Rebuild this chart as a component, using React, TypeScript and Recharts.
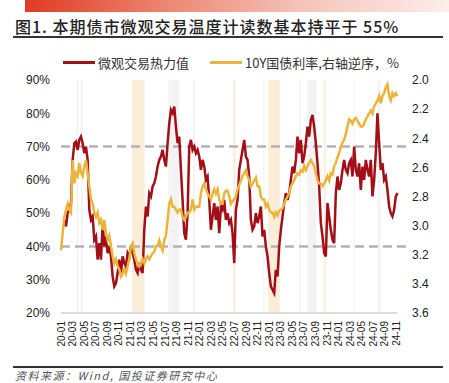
import React from "react";
import {
  ComposedChart,
  Line,
  XAxis,
  YAxis,
  ReferenceArea,
  ReferenceLine,
} from "recharts";

// samples are spaced STEP months apart, starting at 2020-01
const STEP = 0.288;

const tickLabels = [
  "20-01", "20-03", "20-05", "20-07", "20-09", "20-11",
  "21-01", "21-03", "21-05", "21-07", "21-09", "21-11",
  "22-01", "22-03", "22-05", "22-07", "22-09", "22-11",
  "23-01", "23-03", "23-05", "23-07", "23-09", "23-11",
  "24-01", "24-03", "24-05", "24-07", "24-09", "24-11",
];

// 微观交易热力值 (%)
const heatIndex: (number | null)[] = [
  null, null, 48, 46, 50, 51, 53, 66, 71, 71.5,
  69, 72, 73, 71, 68, 70, 66, 51, 48, 49,
  42, 43, 36, 41, 36, 47, 40, 43, 38, 40,
  37, 31, 28, 29, 32, 36, 32, 37, 35, 34,
  38, 37, 40, 38, 36, 33, 32, 35, 33, 32,
  45, 52, 49, 56, 55, 58, 59, 61, 64, 66,
  67, 69, 66, 64, 71, 77, 81, 80, 82, 76,
  71, 73, 63, 54, 44, 42, 50, 70, 72, 69,
  70, 68, 69, 67, 63, 66, 64, 60, 61, 54,
  45, 49, 53, 48, 52, 44, 52, 51,
  54, 48, 50, 47, 48, 44, 35, 51, 54, 63,
  66, 69, 72, 67, 66, 61, 48, 45, 46, 50,
  47, 49, 52, 43, 45, 40, 37, 32, 28, 27,
  26, 33, 31, 40, 45, 49, 53, 56, 54, 56,
  60, 64, 62, 66, 73, 68, 72, 65, 67, 71,
  76, 73, 78, 79.5, 76, 71, 65, 58, 47, 43,
  38, 37, 53, 49, 45, 42, 41, 56, 61, 57,
  59, 63, 66, 63, 62, 65, 66, 61, 70, 63,
  61, 65, 57, 64, 60, 66, 63, 61, 66, 55,
  60, 68, 80, 71, 63, 65, 60, 61, 57, 52,
  50, 49, 51, 55, 56,
];

// 10Y国债利率 (%)
const bondYield: number[] = [
  3.17, 3.05, 2.94, 2.89, 2.85, 2.89, 2.91, 2.55, 2.71, 2.64,
  2.66, 2.57, 2.64, 2.66, 2.59, 2.55, 2.64, 2.73, 2.82, 2.85,
  2.91, 2.94, 2.91, 2.98, 2.96, 3.03, 2.96, 3.05, 3.10, 3.07,
  3.14, 3.21, 3.26, 3.23, 3.28, 3.30, 3.35, 3.33, 3.30, 3.33,
  3.28, 3.23, 3.14, 3.12, 3.19, 3.23, 3.26, 3.28, 3.26, 3.23,
  3.26, 3.23, 3.21, 3.23, 3.21, 3.19, 3.18, 3.14, 3.14, 3.10,
  3.14, 3.17, 3.10, 3.07, 2.96, 2.85, 2.82, 2.87, 2.87, 2.89,
  2.91, 2.89, 2.89, 2.94, 2.96, 2.94, 2.91, 2.91, 2.89, 2.82,
  2.89, 2.87, 2.87, 2.87, 2.78, 2.73, 2.71, 2.75, 2.78, 2.80,
  2.82, 2.78, 2.75, 2.78, 2.75, 2.82, 2.85, 2.85,
  2.78, 2.76, 2.76, 2.80, 2.85, 2.83, 2.82, 2.80, 2.75, 2.72,
  2.69, 2.66, 2.64, 2.62, 2.66, 2.69, 2.73, 2.71, 2.69, 2.67,
  2.73, 2.73, 2.80, 2.82, 2.82, 2.87, 2.85, 2.89, 2.91, 2.91,
  2.94, 2.91, 2.93, 2.90, 2.89, 2.88, 2.85, 2.82, 2.80, 2.78,
  2.73, 2.71, 2.69, 2.66, 2.64, 2.65, 2.62, 2.63, 2.59, 2.62,
  2.59, 2.57, 2.55, 2.57, 2.59, 2.64, 2.69, 2.71, 2.71, 2.73,
  2.71, 2.69, 2.66, 2.69, 2.64, 2.65, 2.59, 2.57, 2.53, 2.50,
  2.46, 2.43, 2.41, 2.37, 2.32, 2.27, 2.28, 2.30, 2.27, 2.26,
  2.28, 2.30, 2.32, 2.32, 2.30, 2.27, 2.25, 2.23, 2.21, 2.23,
  2.18, 2.16, 2.14, 2.11, 2.16, 2.11, 2.09, 2.05, 2.03, 2.11,
  2.14, 2.09, 2.11, 2.09, 2.11,
];

// shaded periods, in months from 2020-01
const creamBands: [number, number][] = [
  [12.27, 14.46], [29.77, 30.18], [35.82, 37.84], [45.44, 45.78],
];
const greyBands: [number, number][] = [
  [18.54, 20.39], [42.55, 44.18], [54.77, 55.23],
];
const faintBands: [number, number][] = [
  [2.72, 2.95], [3.48, 3.7], [22.9, 23.1], [35.0, 35.15], [41.25, 41.45], [50.6, 50.75],
];
const thresholds = [70, 40];

const leftTicks = [20, 30, 40, 50, 60, 70, 80, 90];
const rightTicks = [2.0, 2.2, 2.4, 2.6, 2.8, 3.0, 3.2, 3.4, 3.6];

const rows = bondYield.map((y, i) => ({
  m: +(i * STEP).toFixed(3),
  heat: heatIndex[i] ?? null,
  yield: y,
}));
const lastM = rows[rows.length - 1].m;

const LATIN = '"Liberation Sans", Arial, sans-serif';
const CJK = '"Noto Sans CJK SC", "Liberation Sans", sans-serif';

function MonthTick({ x, y, payload }: any) {
  const label = tickLabels[Math.round(payload.value / 2)];
  return (
    <text
      x={x}
      y={y}
      dy="0.35em"
      transform={`rotate(-90, ${x}, ${y})`}
      textAnchor="end"
      fontSize={10}
      fill="#222"
      fontFamily={LATIN}
    >
      {label}
    </text>
  );
}

export default function App() {
  return (
    <div
      style={{
        position: "absolute",
        left: 0,
        top: 0,
        width: 449,
        height: 383,
        background: "#fff",
        overflow: "hidden",
        fontFamily: CJK,
      }}
    >
      <div
        style={{
          position: "absolute",
          left: 25,
          top: 0,
          width: 424,
          height: 12,
          background: "linear-gradient(90deg, #e13a22 0%, #ec8a76 35%, #f5c3b8 65%, #fdeeea 100%)",
        }}
      />
      <div
        style={{
          position: "absolute",
          left: 15,
          top: 15,
          fontSize: 16,
          fontWeight: 500,
          letterSpacing: 1,
          color: "#222",
          whiteSpace: "nowrap",
          lineHeight: "22px",
        }}
      >
        图1. 本期债市微观交易温度计读数基本持平于 55%
      </div>
      <div style={{ position: "absolute", left: 13, top: 36, width: 430, height: 1.5, background: "#333" }} />

      <div style={{ position: "absolute", left: 63, top: 54, height: 16, display: "flex", alignItems: "center", fontSize: 13, color: "#333", whiteSpace: "nowrap" }}>
        <span style={{ display: "inline-block", width: 32, height: 3, background: "#a20f17", marginRight: 3 }} />
        <span style={{ width: 112 }}>微观交易热力值</span>
        <span style={{ display: "inline-block", width: 32, height: 3, background: "#ebb43b", marginRight: 3 }} />
        <span>10Y国债利率,右轴逆序，%</span>
      </div>

      <div style={{ position: "absolute", left: 0, top: 0 }}>
        <ComposedChart
          width={449}
          height={383}
          data={rows}
          margin={{ top: 80, right: 0, left: 0, bottom: 0 }}
        >
          <XAxis
            dataKey="m"
            type="number"
            domain={[0, 60]}
            ticks={tickLabels.map((_, i) => i * 2)}
            interval={0}
            tick={<MonthTick />}
            tickLine={false}
            axisLine={false}
            height={70}
          />
          <YAxis
            yAxisId="left"
            domain={[20, 90]}
            ticks={leftTicks}
            tickFormatter={(v: number) => `${v}%`}
            tick={{ fontSize: 12, fill: "#222", fontFamily: LATIN }}
            tickLine={false}
            axisLine={false}
            tickSize={0}
            tickMargin={11}
            width={61}
          />
          <YAxis
            yAxisId="right"
            orientation="right"
            reversed
            domain={[2.0, 3.6]}
            ticks={rightTicks}
            tickFormatter={(v: number) => v.toFixed(1)}
            tick={{ fontSize: 12, fill: "#222", fontFamily: LATIN }}
            tickLine={false}
            axisLine={false}
            tickSize={0}
            tickMargin={4}
            width={41}
          />
          {faintBands.map(([a, b], i) => (
            <ReferenceArea key={`f${i}`} yAxisId="left" x1={a} x2={b} y1={20} y2={90} fill="#efefef" fillOpacity={1} stroke="none" />
          ))}
          {greyBands.map(([a, b], i) => (
            <ReferenceArea key={`g${i}`} yAxisId="left" x1={a} x2={b} y1={20} y2={90} fill="#f3f3f3" fillOpacity={1} stroke="none" />
          ))}
          {creamBands.map(([a, b], i) => (
            <ReferenceArea key={`c${i}`} yAxisId="left" x1={a} x2={b} y1={20} y2={90} fill="#faeed8" fillOpacity={1} stroke="none" />
          ))}
          <ReferenceLine
            yAxisId="left"
            segment={[{ x: 0, y: 20 }, { x: lastM, y: 20 }]}
            stroke="#dcdcdc"
            strokeWidth={2}
          />
          {thresholds.map((t) => (
            <ReferenceLine key={t} yAxisId="left" y={t} stroke="#b3b3b3" strokeWidth={2.5} strokeDasharray="9 5" />
          ))}
          <Line
            yAxisId="left"
            type="linear"
            dataKey="heat"
            stroke="#a20f17"
            strokeWidth={2.5}
            dot={false}
            connectNulls={false}
            isAnimationActive={false}
          />
          <Line
            yAxisId="right"
            type="linear"
            dataKey="yield"
            stroke="#ebb43b"
            strokeWidth={2.5}
            dot={false}
            isAnimationActive={false}
          />
        </ComposedChart>
      </div>

      <div style={{ position: "absolute", left: 13, top: 366, width: 430, height: 1.5, background: "#333" }} />
      <div
        style={{
          position: "absolute",
          left: 15,
          top: 369,
          fontSize: 11,
          fontStyle: "italic",
          letterSpacing: 1.5,
          color: "#555",
          whiteSpace: "nowrap",
          lineHeight: "12px",
        }}
      >
        资料来源：Wind, 国投证券研究中心
      </div>
    </div>
  );
}
